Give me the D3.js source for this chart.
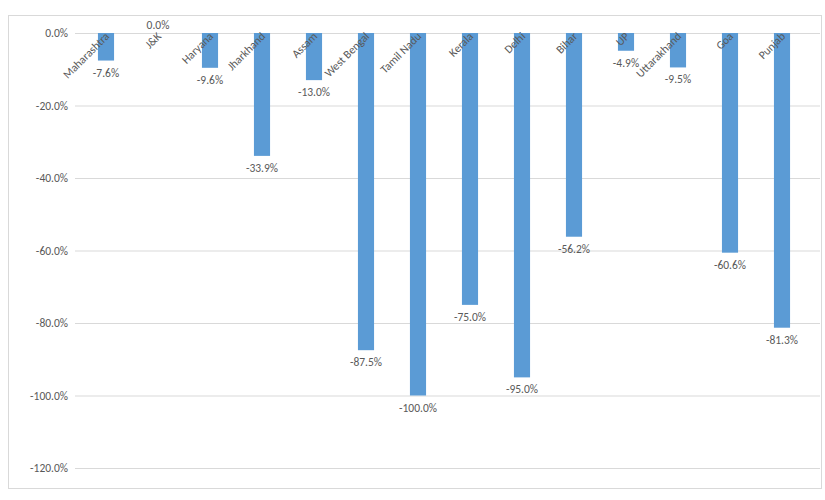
<!DOCTYPE html>
<html><head><meta charset="utf-8">
<script src="https://cdn.jsdelivr.net/npm/d3@7"></script>
<style>body{margin:0;background:#fff}text{font-family:Calibri,"Liberation Sans",Arial,sans-serif;fill:#595959;font-size:11.5px}</style>
</head><body>
<svg id="c" width="825" height="500"></svg>
<script>
const states = ["Maharashtra","J&K","Haryana","Jharkhand","Assam","West Bengal","Tamil Nadu","Kerala","Delhi","Bihar","UP","Uttarakhand","Goa","Punjab"];
const change = [-7.6,0.0,-9.6,-33.9,-13.0,-87.5,-100.0,-75.0,-95.0,-56.2,-4.9,-9.5,-60.6,-81.3];
const yTicks = [0,-20,-40,-60,-80,-100,-120];

const svg = d3.select("#c");
svg.append("rect").attr("x",8.5).attr("y",15.5).attr("width",813).attr("height",473)
  .attr("fill","none").attr("stroke","#d9d9d9");

const x = d3.scaleBand().domain(states).range([80,808]).paddingInner(0.69).paddingOuter(0.345);
const y = d3.scaleLinear().domain([-120,0]).range([468,33]);

svg.selectAll(".grid").data(yTicks).join("line")
  .attr("x1",75).attr("x2",820).attr("y1",d=>y(d)+0.5).attr("y2",d=>y(d)+0.5)
  .attr("stroke","#d9d9d9");

svg.selectAll(".yl").data(yTicks).join("text")
  .attr("x",68).attr("y",d=>y(d)+4).attr("text-anchor","end")
  .text(d=>d.toFixed(1)+"%");

svg.selectAll(".bar").data(change).join("rect")
  .attr("x",(d,i)=>x(states[i])).attr("width",x.bandwidth())
  .attr("y",y(0)).attr("height",d=>y(d)-y(0))
  .attr("fill","#5b9bd5");

svg.selectAll(".vl").data(change).join("text")
  .attr("x",(d,i)=>x(states[i])+x.bandwidth()/2)
  .attr("y",d=>d===0?y(0)-4:y(d)+16)
  .attr("text-anchor","middle")
  .text(d=>d.toFixed(1)+"%");

svg.selectAll(".cl").data(states).join("text")
  .attr("text-anchor","end")
  .attr("transform",d=>`translate(${x(d)+x.bandwidth()/2+4},${y(0)+4}) rotate(-45)`)
  .text(d=>d);
</script>
</body></html>
